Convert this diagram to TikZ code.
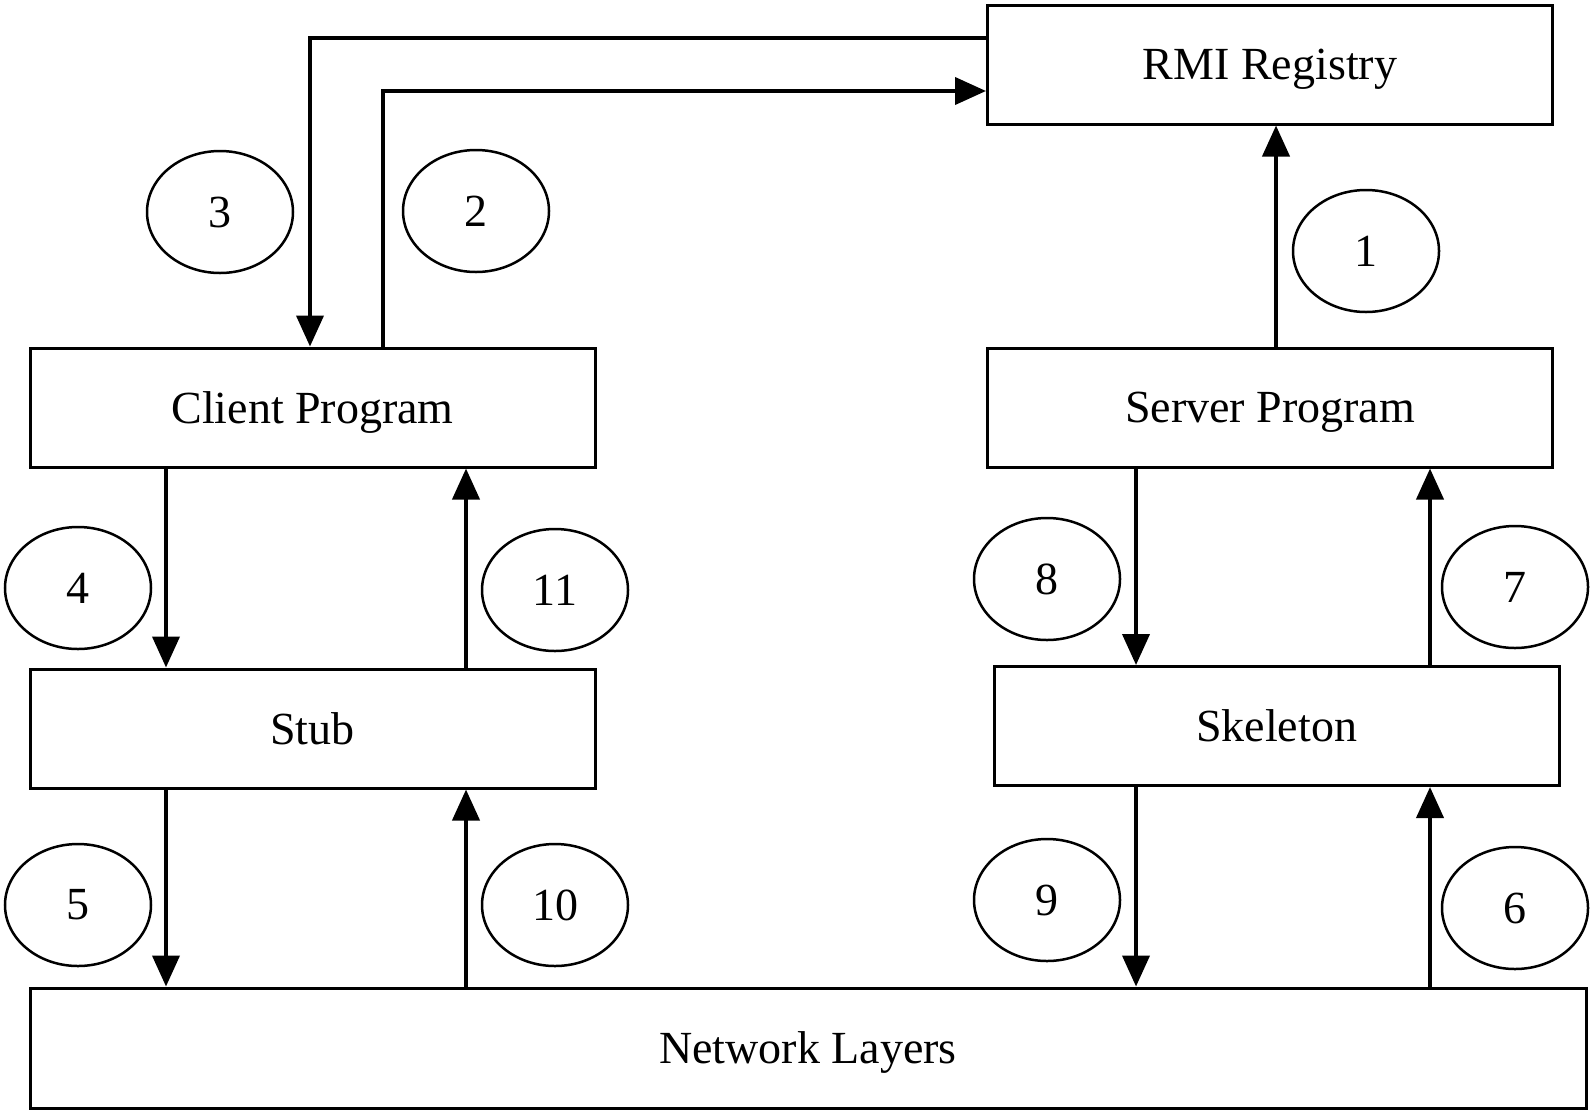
\documentclass[tikz,border=0pt]{standalone}
\usepackage{fontspec}
\setmainfont{Liberation Serif}
\usetikzlibrary{
  positioning,
  arrows.meta,
  shapes.geometric
}

\begin{document}
\begin{tikzpicture}[
  x=1pt, y=-1pt,
  font=\fontsize{46}{52}\selectfont,
  block/.style={
    rectangle,
    draw=black,
    line width=3pt,
    minimum width=565pt,
    minimum height=119pt,
    text depth=0pt,
    inner sep=0pt
  },
  wideblock/.style={
    block,
    minimum width=1556pt,
    minimum height=120pt
  },
  tag/.style={
    ellipse,
    draw=black,
    line width=2.5pt,
    minimum width=146pt,
    minimum height=122pt,
    inner sep=0pt
  },
  arrow/.style={
    -{Triangle[length=31pt, width=27pt]},
    line width=4pt,
    draw=black
  }
]
\useasboundingbox (0,0) rectangle (1594,1114);

% Boxes
\node[block] (reg) at (1270,64.5) {RMI Registry};
\node[block] (client) at (312.5,407.5) {Client Program};
\node[block] (server) at (1270,407.5) {Server Program};
\node[block] (stub) at (312.5,728.5) {Stub};
\node[block] (skel) at (1276.5,726) {Skeleton};
\node[wideblock] (net) at (808,1048) {Network Layers};

% Step numbers
\node[tag] (n1) at (1366,251) {1};
\node[tag] (n2) at (476,211) {2};
\node[tag] (n3) at (220,212) {3};
\node[tag] (n4) at (78,588) {4};
\node[tag] (n5) at (78,905) {5};
\node[tag] (n6) at (1515,908) {6};
\node[tag] (n7) at (1515,587) {7};
\node[tag] (n8) at (1047,579) {8};
\node[tag] (n9) at (1047,900) {9};
\node[tag] (n10) at (555,905) {10};
\node[tag] (n11) at (555,590) {11};

% Registry lookups
\draw[arrow] (server.north -| 1276,0) -- (reg.south -| 1276,0);
\draw[arrow] (client.north -| 383,0) |- (reg.west |- 0,91);
\draw[arrow] (reg.west |- 0,38) -| (client.north -| 310,0);

% Client side
\draw[arrow] (client.south -| 166,0) -- (stub.north -| 166,0);
\draw[arrow] (stub.south -| 166,0) -- (net.north -| 166,0);
\draw[arrow] (net.north -| 466,0) -- (stub.south -| 466,0);
\draw[arrow] (stub.north -| 466,0) -- (client.south -| 466,0);

% Server side
\draw[arrow] (net.north -| 1430,0) -- (skel.south -| 1430,0);
\draw[arrow] (skel.north -| 1430,0) -- (server.south -| 1430,0);
\draw[arrow] (server.south -| 1136,0) -- (skel.north -| 1136,0);
\draw[arrow] (skel.south -| 1136,0) -- (net.north -| 1136,0);

\end{tikzpicture}
\end{document}
